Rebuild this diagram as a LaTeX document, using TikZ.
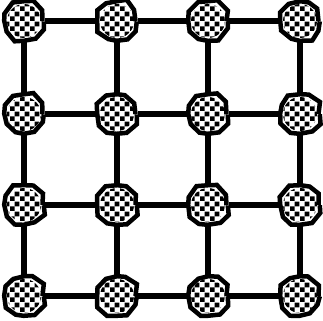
\documentclass[tikz,border=0pt]{standalone}
\usetikzlibrary{patterns.meta,decorations.pathmorphing}
\tikzdeclarepattern{
  name=bigchecker,
  type=uncolored,
  bottom left={(0bp,0bp)},
  top right={(10bp,10bp)},
  tile size={(10bp,10bp)},
  code={\fill (0bp,0bp) rectangle (5bp,5bp); \fill (5bp,5bp) rectangle (10bp,10bp);}
}
\tikzset{
  vtx/.style={circle, minimum size=37bp, inner sep=0pt, draw=black, line width=4.5bp,
    fill=white, decorate, decoration={random steps, segment length=11bp, amplitude=1.5bp}},
  vtxpat/.style={circle, minimum size=34bp, inner sep=0pt, pattern={bigchecker}, pattern color=black},
  link/.style={line width=5.5bp, black}
}
\begin{document}
\begin{tikzpicture}[x=1bp,y=1bp]
\pgfmathsetseed{7}
\fill[white] (0,0) rectangle (323,321);
\useasboundingbox (0,0) rectangle (323,321);
\foreach \i/\x in {1/24,2/117,3/208,4/300}{
  \foreach \j/\y in {1/300,2/207,3/116,4/25}{
    \node[vtx] (n\i\j) at (\x,\y) {};
    \node[vtxpat] at (\x,\y) {};
  }
}
\foreach \i in {1,2,3,4}{
  \foreach \j/\k in {1/2,2/3,3/4}{
    \draw[link] (n\i\j) -- (n\i\k);
    \draw[link] (n\j\i) -- (n\k\i);
  }
}
\end{tikzpicture}
\end{document}
